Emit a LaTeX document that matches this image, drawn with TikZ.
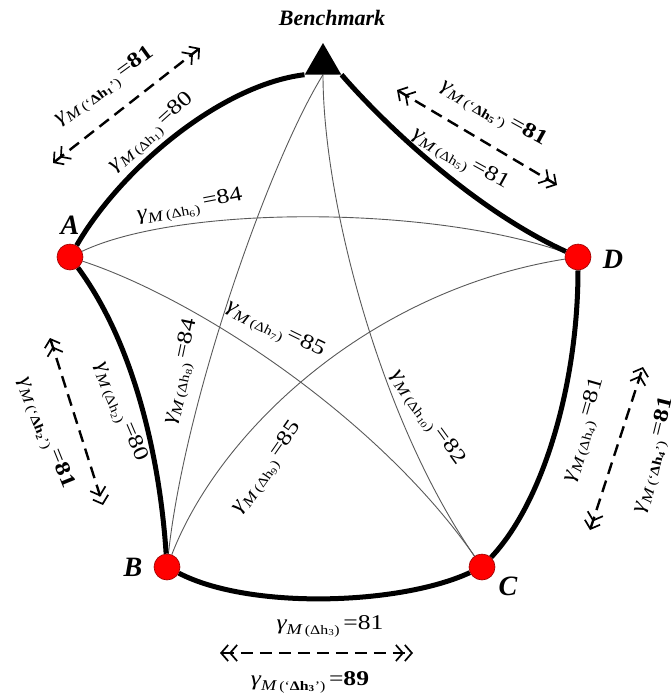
\documentclass[tikz,border=0pt]{standalone}
\usepackage{fontspec}
\setmainfont{Liberation Serif}
\usepackage{graphicx}
\usetikzlibrary{shapes.geometric,arrows.meta}
\pgfdeclarelayer{background}
\pgfsetlayers{background,main}

\newcommand{\gsub}[1]{\raisebox{-0.5ex}{\fontsize{15}{15}\selectfont\itshape M\kern2.5pt\upshape\fontsize{13}{13}\selectfont #1}}
\newcommand{\glab}[2]{\scalebox{1.22}[1]{{\itshape γ}\gsub{(Δh\textsubscript{#1})}\kern3pt=#2}}
\newcommand{\glabp}[2]{\scalebox{1.22}[1]{{\itshape γ}\gsub{(‘\textbf{Δh\textsubscript{#1}}’)}\kern3pt=\textbf{#2}}}

\tikzset{
  vtx/.style={circle, fill=red, draw=red!60!black, line width=0.6pt, minimum size=26pt, inner sep=0pt},
  vname/.style={font=\fontsize{28}{28}\selectfont\bfseries\itshape, inner sep=0pt},
  benchtri/.style={regular polygon, regular polygon sides=3, fill=black, minimum size=42pt, inner sep=0pt},
  thickedge/.style={line width=5pt, black},
  thinedge/.style={line width=0.9pt, black!65},
  dasharrow/.style={line width=2.4pt, dash pattern=on 12pt off 7pt,
    {Straight Barb[length=7pt,width=16pt,line width=1.7pt]Straight Barb[length=7pt,width=16pt,line width=1.7pt]}-{Straight Barb[length=7pt,width=16pt,line width=1.7pt]Straight Barb[length=7pt,width=16pt,line width=1.7pt]}},
  lbl/.style={inner sep=0pt, font=\fontsize{21}{24}\selectfont},
}

\begin{document}
\begin{tikzpicture}[x=1pt,y=-1pt]
\useasboundingbox (0,0) rectangle (671,697);

% benchmark
\node[benchtri] (T) at (323,64) {};
\node[font=\fontsize{22}{22}\selectfont\bfseries\itshape] (bm) at (332,18) {Benchmark};

% vertices
\node[vtx] (A) at (70,257) {};
\node[vtx] (D) at (578,257) {};
\node[vtx] (B) at (167,567) {};
\node[vtx] (C) at (482,567) {};
\node[vname] (lA) at (70,225) {A};
\node[vname] (lD) at (613,259) {D};
\node[vname] (lB) at (133,567) {B};
\node[vname] (lC) at (508,586) {C};

\begin{pgfonlayer}{background}
% thin edges
\draw[thinedge] (T.south) .. controls (270,160) and (185,400) .. (B);
\draw[thinedge] (T.south) .. controls (323,200) and (380,420) .. (C);
\draw[thinedge] (A) .. controls (180,205) and (430,205) .. (D);
\draw[thinedge] (A) .. controls (200,300) and (380,420) .. (C);
\draw[thinedge] (B) .. controls (220,430) and (370,290) .. (D);
% thick edges
\draw[thickedge] (A) .. controls (120,170) and (220,85) .. (T.corner 2);
\draw[thickedge] (T.corner 3) .. controls (385,125) and (475,210) .. (D);
\draw[thickedge] (D) .. controls (578,380) and (545,500) .. (C);
\draw[thickedge] (C) .. controls (400,605) and (250,610) .. (B);
\draw[thickedge] (B) .. controls (160,460) and (135,345) .. (A);
\end{pgfonlayer}

% dashed double arrows
\coordinate (a1s) at (53,163);  \coordinate (a1e) at (200,48);
\coordinate (a5s) at (397,90);  \coordinate (a5e) at (557,185);
\coordinate (a2s) at (50,338);  \coordinate (a2e) at (103,505);
\coordinate (a4s) at (590,530); \coordinate (a4e) at (643,367);
\coordinate (a3s) at (220,653); \coordinate (a3e) at (413,653);
\draw[dasharrow] (a1s) -- (a1e);
\draw[dasharrow] (a5s) -- (a5e);
\draw[dasharrow] (a2s) -- (a2e);
\draw[dasharrow] (a4s) -- (a4e);
\draw[dasharrow] (a3s) -- (a3e);

% labels
\node[lbl, rotate=36] (l1p) at (105,87) {\glabp{1}{81}};
\node[lbl, rotate=42] (l1) at (152,133) {\glab{1}{80}};
\node[lbl, rotate=-29] (l5p) at (493,114) {\glabp{5}{81}};
\node[lbl, rotate=-29] (l5) at (460,160) {\glab{5}{81}};
\node[lbl, rotate=-68] (l2p) at (45,433) {\glabp{2}{81}};
\node[lbl, rotate=-67] (l2) at (120,412) {\glab{2}{80}};
\node[lbl, rotate=74] (l4) at (585,430) {\glab{4}{81}};
\node[lbl, rotate=76] (l4p) at (655,455) {\glabp{4}{81}};
\node[lbl] (l3) at (330,626) {\glab{3}{81}};
\node[lbl] (l3p) at (310,682) {\glabp{3}{89}};
\node[lbl, rotate=11] (l6) at (190,207) {\glab{6}{84}};
\node[lbl, rotate=-26] (l7) at (275,330) {\glab{7}{85}};
\node[lbl, rotate=78] (l8) at (182,372) {\glab{8}{84}};
\node[lbl, rotate=55] (l9) at (268,468) {\glab{9}{85}};
\node[lbl, rotate=-54] (l10) at (427,418) {\glab{10}{82}};
\end{tikzpicture}
\end{document}
